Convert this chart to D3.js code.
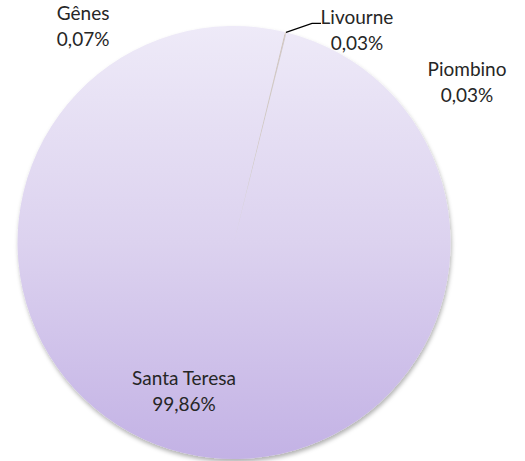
<!DOCTYPE html>
<html>
<head>
<meta charset="utf-8">
<script src="https://cdn.jsdelivr.net/npm/d3@7/dist/d3.min.js"></script>
<style>
body { margin:0; background:#fff; }
text { font-family: "Lato", "Open Sans", sans-serif; font-size:19px; fill:#262626; }
</style>
</head>
<body>
<svg id="chart" width="525" height="461"></svg>
<script>
var ports = ["Gênes","Livourne","Piombino","Santa Teresa"];
var shares = [0.07,0.03,0.03,99.86];
var shareLabels = ["0,07%","0,03%","0,03%","99,86%"];
var sliceFills = ["#cfc2bb","#d9ccc5","#c8bec6",null];

var cx = 234, cy = 242.5, radius = 216.5;
var firstAngle = 13.6 * Math.PI / 180;
// where excel pushed the labels: angle (deg from top) and distance from centre
var labelAngle = [-34.8, 30.0, 55.2, 198.8];
var labelDist = [264.4, 246, 283.8, 155.3];

var svg = d3.select("#chart");
var defs = svg.append("defs");

var grad = defs.append("linearGradient")
  .attr("id","pieGrad")
  .attr("gradientUnits","userSpaceOnUse")
  .attr("x1",0).attr("y1",-radius).attr("x2",0).attr("y2",radius);
grad.append("stop").attr("offset","0%").attr("stop-color","#eeeaf8");
grad.append("stop").attr("offset","50%").attr("stop-color","#dcd2ef");
grad.append("stop").attr("offset","100%").attr("stop-color","#c3b2e5");

var shadow = defs.append("filter").attr("id","shadow")
  .attr("x","-10%").attr("y","-10%").attr("width","120%").attr("height","120%");
shadow.append("feDropShadow")
  .attr("dx",1).attr("dy",3).attr("stdDeviation",2)
  .attr("flood-color","#000").attr("flood-opacity",0.3);

var pie = d3.pie().sort(null)
  .startAngle(firstAngle).endAngle(firstAngle + 2*Math.PI)
  .value(function(d){ return d; });
var arcs = pie(shares);

var arc = d3.arc().innerRadius(0).outerRadius(radius);

var g = svg.append("g").attr("transform","translate("+cx+","+cy+")");

g.append("g").attr("filter","url(#shadow)")
  .selectAll("path").data(arcs).enter()
  .append("path")
  .attr("d", arc)
  .style("fill", function(d,i){ return sliceFills[i] || "url(#pieGrad)"; });

function polar(deg, r) {
  var a = deg * Math.PI / 180;
  return [Math.sin(a)*r, -Math.cos(a)*r];
}

// leader line for Livourne
var liv = arcs[1];
var mid = (liv.startAngle + liv.endAngle)/2;
var edge = [Math.sin(mid)*radius, -Math.cos(mid)*radius];
var lp = polar(labelAngle[1], labelDist[1]);
var lineY = lp[1] - 6;
var lineEnd = lp[0] - 36;
g.append("polyline")
  .attr("points", [edge, [lineEnd-9, lineY], [lineEnd, lineY]].map(function(p){ return p.join(","); }).join(" "))
  .style("fill","none").style("stroke","#000").style("stroke-width",1.2);

var labels = g.selectAll("g.lbl").data(ports).enter()
  .append("g").attr("class","lbl")
  .attr("transform", function(d,i){
    var p = polar(labelAngle[i], labelDist[i]);
    return "translate("+p[0]+","+p[1]+")";
  });
labels.append("text").attr("text-anchor","middle").attr("y",-5)
  .text(function(d){ return d; });
labels.append("text").attr("text-anchor","middle").attr("y",21)
  .text(function(d,i){ return shareLabels[i]; });
</script>
</body>
</html>
